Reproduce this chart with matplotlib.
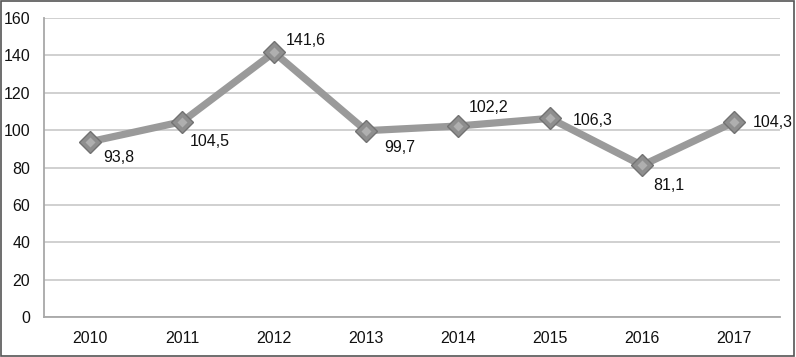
import matplotlib

matplotlib.use("Agg")
import matplotlib.pyplot as plt
from matplotlib.patches import Rectangle

years = ["2010", "2011", "2012", "2013", "2014", "2015", "2016", "2017"]
values = [93.8, 104.5, 141.6, 99.7, 102.2, 106.3, 81.1, 104.3]
labels = ["93,8", "104,5", "141,6", "99,7", "102,2", "106,3", "81,1", "104,3"]
# label offsets in pixels (dx, dy)
offsets = [(13, -16), (8, -20), (12, 12), (18, -17), (11, 19), (23, -2), (11, -20), (19, 0)]
yticks = [0, 20, 40, 60, 80, 100, 120, 140, 160]

plt.rcParams["font.family"] = ["Liberation Sans", "DejaVu Sans"]

fig = plt.figure(figsize=(7.96, 3.57), dpi=100)
ax = fig.add_axes([0.0553, 0.112, 0.9247, 0.8376])

x = list(range(len(years)))
ax.plot(x, values, color="#9a9a9a", lw=5.2, zorder=3, solid_joinstyle="miter")
ax.plot(x, values, ls="none", marker="D", ms=11.5, mfc="#8e8e8e", mec="#727272",
        mew=1.0, zorder=4)
ax.plot(x, values, ls="none", marker="D", ms=5, mfc="#b8b8b8", mec="none",
        zorder=5, alpha=0.8)

for xi, v, lab, (dx, dy) in zip(x, values, labels, offsets):
    ax.annotate(lab, (xi, v), xytext=(dx, dy), textcoords="offset pixels",
                ha="left", va="center", fontsize=11.5, color="#111111", zorder=6)

ax.set_xlim(-0.5, len(years) - 0.5)
ax.set_ylim(0, 160)
ax.set_yticks(yticks)
ax.set_xticks(x)
ax.set_xticklabels(years)
ax.tick_params(axis="both", length=0, labelsize=11.5, colors="#111111")
ax.tick_params(axis="x", pad=10)
ax.tick_params(axis="y", pad=10)
ax.grid(True, axis="y", color="#c8c8c8", lw=1.2)
ax.set_axisbelow(True)
for s in ["top", "right"]:
    ax.spines[s].set_visible(False)
for s in ["left", "bottom"]:
    ax.spines[s].set_color("#a8a8a8")
    ax.spines[s].set_linewidth(1.3)

fig.patches.append(Rectangle((0.001, 0.002), 0.997, 0.995, transform=fig.transFigure,
                             fill=False, edgecolor="#555555", lw=1.2))

fig.savefig("out.png", dpi=100)
